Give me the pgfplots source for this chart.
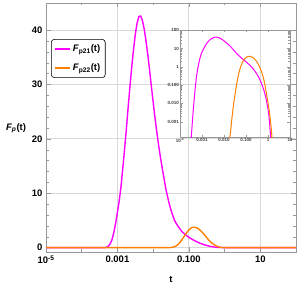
\documentclass[border=0pt]{standalone}
\usepackage{fontspec}
\setmainfont{Liberation Sans}
\usepackage{pgfplots}
\pgfplotsset{compat=1.18}
\usepackage{pgfplotstable}

\definecolor{mmag}{RGB}{255,0,255}
\definecolor{morange}{RGB}{255,128,0}
\definecolor{framegray}{gray}{0.6}
\definecolor{gridgray}{gray}{0.85}

\pgfplotstableread{
lt v
-5 0
-3.60 0
-3.55 0.00002
-3.50 0.0001
-3.45 0.0006
-3.40 0.004
-3.35 0.02
-3.30 0.09
-3.25 0.3
-3.20 0.75
-3.15 1.5
-3.10 2.8
-3.05 4.5
-3.00 6.5
-2.95 8.6
-2.90 11.2
-2.85 14.6
-2.80 18.1
-2.75 21.8
-2.70 25.8
-2.65 29.6
-2.60 33.2
-2.55 36.4
-2.50 39.2
-2.45 41.3
-2.40 42.5
-2.35 42.6
-2.30 41.8
-2.25 40.2
-2.20 38.0
-2.15 35.5
-2.10 32.7
-2.05 29.7
-2.00 26.8
-1.95 24.0
-1.90 21.4
-1.85 19.0
-1.80 16.8
-1.75 14.8
-1.70 12.9
-1.65 11.0
-1.60 9.5
-1.55 8.1
-1.50 6.9
-1.45 5.9
-1.40 5.0
-1.35 4.4
-1.30 3.9
-1.20 3.0
-1.10 2.4
-1.00 1.9
-0.90 1.5
-0.80 1.15
-0.70 0.85
-0.60 0.6
-0.50 0.4
-0.40 0.24
-0.30 0.13
-0.20 0.06
-0.10 0.022
0.00 0.005
0.05 0.0017
0.10 0.0003
0.13 0.0001
0.16 0.00001
0.20 0
2 0
}\magdata

\pgfplotstableread{
lt v
-5 0
-1.85 0
-1.80 0.00002
-1.75 0.0001
-1.70 0.0003
-1.65 0.0012
-1.60 0.004
-1.55 0.012
-1.50 0.03
-1.45 0.075
-1.40 0.17
-1.35 0.34
-1.30 0.6
-1.25 0.95
-1.20 1.4
-1.15 1.9
-1.10 2.4
-1.05 2.85
-1.00 3.25
-0.95 3.55
-0.90 3.72
-0.85 3.76
-0.80 3.7
-0.75 3.55
-0.70 3.3
-0.65 3.0
-0.60 2.65
-0.55 2.25
-0.50 1.85
-0.45 1.45
-0.40 1.1
-0.35 0.82
-0.30 0.58
-0.25 0.38
-0.20 0.23
-0.15 0.12
-0.10 0.055
-0.05 0.025
0.00 0.011
0.05 0.0045
0.10 0.0015
0.15 0.0004
0.18 0.00015
0.22 0.00002
0.25 0
2 0
}\oradata

\begin{document}
\begin{tikzpicture}
\path[use as bounding box] (0bp,0bp) rectangle (300bp,288bp);
\begin{axis}[
  at={(46bp,36bp)}, anchor=south west,
  scale only axis, width=250bp, height=249bp,
  xmin=-5, xmax=2, ymin=-0.8, ymax=45,
  axis line style={framegray, line width=0.6bp},
  tick align=inside,
  tick style={framegray, line width=0.5bp},
  major tick length=4.5bp, minor tick length=2.5bp,
  xtick={-5,-3,-1,1},
  xticklabels={10\textsuperscript{-5},0.001,0.100,10},
  minor xtick={-4,-2,0},
  ytick={0,10,20,30,40},
  yticklabels={0,10,20,30,40},
  minor y tick num=4,
  ymajorgrids, xmajorgrids,
  major grid style={gridgray, line width=0.9bp},
  ticklabel style={font=\fontsize{9.5}{11}\selectfont\bfseries, text=black},
  legend style={at={(0.02,0.855)}, anchor=north west, draw=black, line width=0.6bp,
    rounded corners=3bp, font=\fontsize{9.5}{11}\selectfont\bfseries,
    inner xsep=3bp, inner ysep=3.5bp, row sep=6.5bp},
  legend cell align=left,
  clip=true,
]
\addlegendimage{mmag, line width=1.6bp, legend image code/.code={\draw[mmag, line width=1.6bp] (0bp,0bp) -- (15bp,0bp);}}
\addlegendentry{\textit{F}\textsubscript{p21}(t)}
\addlegendimage{morange, line width=1.6bp, legend image code/.code={\draw[morange, line width=1.6bp] (0bp,0bp) -- (15bp,0bp);}}
\addlegendentry{\textit{F}\textsubscript{p22}(t)}
\addplot[mmag, line width=1.4bp, forget plot] table[x=lt,y=v]{\magdata};
\addplot[morange, line width=1.4bp, forget plot] table[x=lt,y=v]{\oradata};
\end{axis}

\begin{axis}[
  at={(180bp,150.7bp)}, anchor=south west,
  scale only axis, width=110bp, height=107.3bp,
  xmin=-4, xmax=1, ymode=log, ymin=1.4e-4, ymax=105,
  axis line style={framegray, line width=0.5bp},
  tick align=inside,
  tick style={framegray, line width=0.4bp},
  major tick length=2.5bp, minor tick length=1.5bp,
  xtick={-4,-3,-2,-1,0,1},
  xticklabels={10\textsuperscript{-4},0.001,0.010,0.100,1,10},
  ytick={0.001,0.01,0.1,1,10,100},
  yticklabels={0.001,0.010,0.100,1,10,100},
  ticklabel style={font=\fontsize{4.5}{5}\selectfont\bfseries, text=black!75, inner sep=1bp},
  clip=true,
]
\addplot[mmag, line width=1bp] table[x=lt,y=v]{\magdata};
\addplot[morange, line width=1bp] table[x=lt,y=v]{\oradata};
\end{axis}

\node[font=\fontsize{9.5}{11}\selectfont\bfseries] at (16bp,160bp) {\textit{F}\textsubscript{\textit{p}}(t)};
\node[font=\fontsize{9.5}{11}\selectfont\bfseries] at (171bp,8.5bp) {t};
\end{tikzpicture}
\end{document}
